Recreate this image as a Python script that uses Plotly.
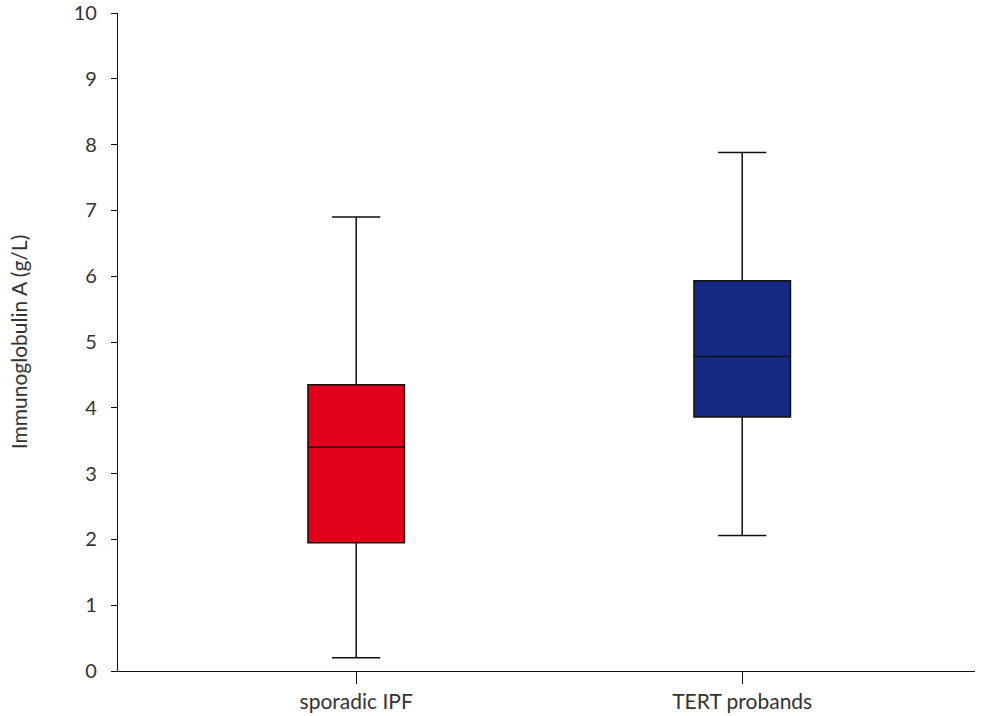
import plotly.graph_objects as go

categories = ["sporadic IPF", "TERT probands"]
lower_whisker = [0.20, 2.06]
q1_values = [1.95, 3.86]
median_values = [3.40, 4.78]
q3_values = [4.35, 5.93]
upper_whisker = [6.90, 7.88]
colors = ["#E3001B", "#162A84"]
y_ticks = list(range(0, 11))

fig = go.Figure()
for i, cat in enumerate(categories):
    fig.add_trace(go.Box(
        x=[cat],
        q1=[q1_values[i]],
        median=[median_values[i]],
        q3=[q3_values[i]],
        lowerfence=[lower_whisker[i]],
        upperfence=[upper_whisker[i]],
        fillcolor=colors[i],
        line=dict(color="#111111", width=1.5),
        width=0.25,
        whiskerwidth=0.5,
        boxpoints=False,
        showlegend=False,
        hoverinfo="y",
    ))

fig.update_layout(
    width=989, height=716,
    margin=dict(l=118, r=14, t=13, b=45),
    plot_bgcolor="white", paper_bgcolor="white",
    font=dict(family="Lato, Open Sans, sans-serif", size=20, color="#333333"),
    xaxis=dict(
        type="category", categoryorder="array", categoryarray=categories,
        range=[-0.617, 1.603], automargin=False,
        showline=True, linecolor="#111111", linewidth=1.2,
        ticks="outside", ticklen=12, tickcolor="#111111", tickwidth=1.2,
        showgrid=False, zeroline=False,
        tickfont=dict(size=21),
    ),
    yaxis=dict(
        range=[0, 10], tickvals=y_ticks, automargin=False,
        showline=True, linecolor="#111111", linewidth=1.2,
        ticks="outside", ticklen=6, tickcolor="#111111", tickwidth=1.2,
        showgrid=False, zeroline=False,
        tickfont=dict(size=20),
        title=dict(text="Immunoglobulin A (g/L)", font=dict(size=21), standoff=40),
        ticklabelstandoff=10,
    ),
)

fig.write_html(
    "out.html",
    config={"displayModeBar": False},
    post_script="document.body.style.margin='0';document.body.style.padding='0';",
)
